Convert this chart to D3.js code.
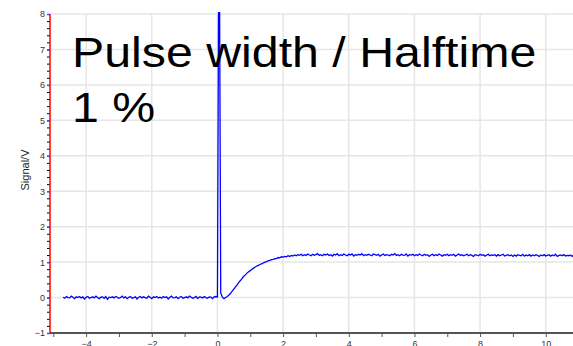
<!DOCTYPE html>
<html>
<head>
<meta charset="utf-8">
<script src="https://cdn.jsdelivr.net/npm/d3@7"></script>
<style>
  body { margin: 0; background: #fff; }
  text { font-family: "Liberation Sans", Arial, sans-serif; }
</style>
</head>
<body>
<div id="my_dataviz"></div>
<script>
// time axis: first sample and sample step (ms)
var tStart = -4.7;
var tStep = 0.05;

// signal (V), one value per sample
var baseline = [
  0.01,-0.02,0.03,0.00,-0.01,0.04,0.01,-0.03,0.02,0.00,
  0.03,-0.01,0.02,-0.04,0.01,0.03,-0.02,0.00,0.02,-0.01,
  0.04,0.00,-0.03,0.01,0.02,-0.02,0.03,-0.05,0.01,0.00,
  0.02,-0.01,0.03,0.01,-0.02,0.00,0.04,-0.01,0.02,-0.03,
  0.01,0.03,-0.02,0.00,0.02,-0.04,0.01,0.03,-0.01,0.02,
  0.00,-0.02,0.04,0.01,-0.03,0.02,0.00,0.03,-0.01,0.01,
  -0.02,0.03,0.00,0.02,-0.04,0.01,0.04,-0.01,0.00,0.02,
  -0.03,0.01,0.03,-0.02,0.00,0.02,-0.01,0.04,0.01,-0.02,
  0.00,0.03,-0.03,0.02,0.01,-0.01,0.03,0.00,-0.02,0.02,
  0.01,-0.03,0.02,0.03
];
var spike = [0.02, 12, 0.13, 0.01, -0.03, 0.00];
var rise = [
  0.03,0.07,0.12,0.18,0.24,0.30,0.36,0.43,0.48,0.54,
  0.60,0.64,0.69,0.73,0.76,0.80,0.83,0.86,0.89,0.91,
  0.94,0.95,0.98,1.00,1.01,1.04,1.05,1.07,1.08,1.10,
  1.10,1.13,1.12,1.15,1.14,1.16,1.15,1.18,1.16,1.19,
  1.17,1.20,1.18,1.21,1.19
];
var plateau = [
  1.22,1.18,1.21,1.19,1.23,1.20,1.18,1.22,1.19,1.21,
  1.24,1.19,1.21,1.18,1.22,1.20,1.23,1.19,1.21,1.17,
  1.22,1.20,1.24,1.18,1.21,1.19,1.23,1.20,1.18,1.22,
  1.20,1.23,1.17,1.21,1.19,1.22,1.20,1.24,1.18,1.21,
  1.19,1.22,1.20,1.18,1.23,1.21,1.19,1.22,1.17,1.20,
  1.23,1.19,1.21,1.20,1.18,1.22,1.20,1.24,1.19,1.21,
  1.18,1.22,1.20,1.19,1.23,1.17,1.21,1.20,1.22,1.18,
  1.21,1.19,1.23,1.20,1.18,1.22,1.19,1.21,1.16,1.20,
  1.22,1.18,1.21,1.19,1.23,1.20,1.17,1.21,1.19,1.22,
  1.18,1.21,1.19,1.22,1.17,1.20,1.23,1.19,1.21,1.18,
  1.20,1.22,1.18,1.21,1.19,1.16,1.21,1.20,1.18,1.22,
  1.19,1.21,1.17,1.20,1.22,1.18,1.20,1.19,1.21,1.17,
  1.21,1.18,1.20,1.22,1.17,1.19,1.21,1.18,1.20,1.16,
  1.20,1.17,1.21,1.19,1.18,1.22,1.17,1.20,1.18,1.21,
  1.17,1.20,1.18,1.21,1.19,1.16,1.20,1.18,1.21,1.17,
  1.19,1.21,1.17,1.20,1.18,1.22,1.16,1.19,1.20,1.18,
  1.21,1.17,1.19,1.18,1.20,1.16,1.21,1.18
];

var xMajor = [-4, -2, 0, 2, 4, 6, 8, 10];
var xMinor = [-5, -3, -1, 1, 3, 5, 7, 9];
var yMajor = [-1, 0, 1, 2, 3, 4, 5, 6, 7, 8];
var titleLines = ["Pulse width / Halftime", "1 %"];
var yLabel = "Signal/V";

var W = 573, H = 346;
var plotLeft = 50, plotTop = 14, plotBottom = 333;

var signal = baseline.concat(spike, rise, plateau);
var data = signal.map(function(v, i) { return {t: tStart + i * tStep, v: v}; });

var svg = d3.select("#my_dataviz")
  .append("svg")
  .attr("width", W)
  .attr("height", H);

var x = d3.scaleLinear().domain([-5.1, 10.83]).range([plotLeft, W]);
var y = d3.scaleLinear().domain([-1, 8]).range([plotBottom, plotTop]);

// grid
svg.append("g").selectAll("line")
  .data(yMajor)
  .enter().append("line")
  .attr("x1", plotLeft).attr("x2", W)
  .attr("y1", function(d) { return y(d); })
  .attr("y2", function(d) { return y(d); })
  .attr("stroke", "#e6e6e6")
  .attr("stroke-width", 1.5);

svg.append("g").selectAll("line")
  .data(xMajor)
  .enter().append("line")
  .attr("x1", function(d) { return x(d); })
  .attr("x2", function(d) { return x(d); })
  .attr("y1", plotTop).attr("y2", plotBottom)
  .attr("stroke", "#e6e6e6")
  .attr("stroke-width", 1.5);

// clip for the signal line
svg.append("clipPath").attr("id", "plotclip")
  .append("rect")
  .attr("x", plotLeft).attr("y", plotTop - 2)
  .attr("width", W - plotLeft).attr("height", plotBottom - plotTop + 2);

var line = d3.line()
  .x(function(d) { return x(d.t); })
  .y(function(d) { return y(d.v); });

svg.append("path")
  .datum(data)
  .attr("clip-path", "url(#plotclip)")
  .attr("d", line)
  .attr("fill", "none")
  .attr("stroke", "#0000ff")
  .attr("stroke-width", 1.3);

// x axis
var xAxis = svg.append("g")
  .attr("transform", "translate(0," + plotBottom + ")")
  .call(d3.axisBottom(x).tickValues(xMajor).tickSize(4).tickPadding(4)
    .tickFormat(d3.format("d")));
xAxis.select(".domain").attr("stroke", "#555").attr("stroke-width", 2)
  .attr("d", "M" + plotLeft + ",0H" + W);
xAxis.selectAll(".tick line").attr("stroke", "#555");
xAxis.selectAll("text").attr("fill", "#333").style("font-size", "9px");

svg.append("g")
  .attr("transform", "translate(0," + plotBottom + ")")
  .call(d3.axisBottom(x).tickValues(xMinor).tickSize(4).tickFormat(""))
  .call(function(g) { g.select(".domain").remove(); })
  .selectAll(".tick line").attr("stroke", "#555");

// y axis: black minor ticks, blue major ticks, red line
svg.append("g")
  .attr("transform", "translate(" + plotLeft + ",0)")
  .call(d3.axisLeft(y).ticks(45).tickSize(3).tickFormat(""))
  .call(function(g) { g.select(".domain").remove(); })
  .selectAll(".tick line").attr("stroke", "#000");

var yAxis = svg.append("g")
  .attr("transform", "translate(" + plotLeft + ",0)")
  .call(d3.axisLeft(y).tickValues(yMajor).tickSize(3).tickPadding(2));
yAxis.select(".domain").remove();
yAxis.selectAll(".tick line").attr("stroke", "#4a4aff").attr("stroke-width", 1.5);
yAxis.selectAll("text").attr("fill", "#333").style("font-size", "9px");

svg.append("line")
  .attr("x1", plotLeft).attr("x2", plotLeft)
  .attr("y1", plotTop).attr("y2", plotBottom)
  .attr("stroke", "#ff0000")
  .attr("stroke-width", 1.5);

// y label
svg.append("text")
  .attr("transform", "translate(29," + 170 + ") rotate(-90)")
  .attr("text-anchor", "middle")
  .style("font-size", "11px")
  .attr("fill", "#222")
  .text(yLabel);

// title block
svg.selectAll("titleLines")
  .data(titleLines)
  .enter().append("text")
  .attr("transform", function(d, i) { return "translate(72," + (67 + i * 54.5) + ") scale(1.15,1)"; })
  .style("font-size", "42px")
  .attr("fill", "#000")
  .text(function(d) { return d; });
</script>
</body>
</html>
